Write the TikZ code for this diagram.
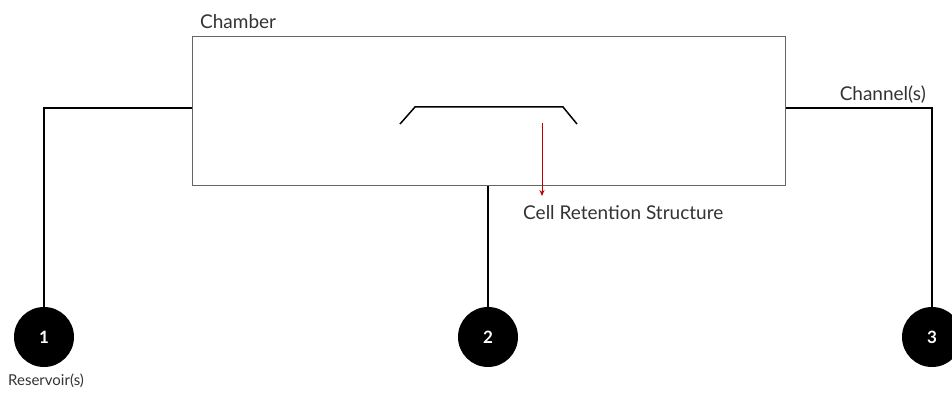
\documentclass[tikz,border=0pt]{standalone}
\usepackage{fontspec}
\setmainfont{Lato}
\usetikzlibrary{arrows.meta}
\begin{document}
\begin{tikzpicture}[x=1pt,y=-1pt,
  wire/.style={line width=1.4pt,black},
  port/.style={circle,fill=black,minimum size=60pt,inner sep=0pt,text=white,font=\bfseries\fontsize{17}{19}\selectfont},
  lbl/.style={text=black!80,font=\fontsize{19}{22}\selectfont,inner sep=0pt}]
\useasboundingbox (0,0) rectangle (952,395);
\node[draw=black!60,line width=0.9pt,minimum width=593pt,minimum height=149pt,inner sep=0pt,anchor=north west] (chamber) at (192,36) {};
\node[lbl,anchor=west] (chlbl) at (200,22) {Chamber};
\node[port] (p1) at (44,337) {1};
\node[port] (p2) at (488,337) {2};
\node[port] (p3) at (932,337) {3};
\node[lbl,anchor=west,font=\fontsize{15}{18}\selectfont] (reslbl) at (8,381) {Reservoir(s)};
\node[lbl,anchor=east] (chnlbl) at (926,95) {Channel(s)};
\node[lbl,anchor=west] (crslbl) at (523,213) {Cell Retention Structure};
\coordinate (lj) at (chamber.west |- 0,108);
\coordinate (rj) at (chamber.east |- 0,108);
\coordinate (bj) at (chamber.south -| p2);
\draw[wire] (lj) -| (p1.north);
\draw[wire] (rj) -| (p3.north);
\draw[wire] (bj) -- (p2.north);
\draw[line width=1.5pt] (400,124) -- (415,107) -- (563,107) -- (577,124);
\coordinate (as) at (542,123);
\coordinate (ae) at (542,196);
\draw[red!75!black,line width=1pt,-{Stealth[length=6pt,width=5pt]}] (as) -- (ae);
\end{tikzpicture}
\end{document}
